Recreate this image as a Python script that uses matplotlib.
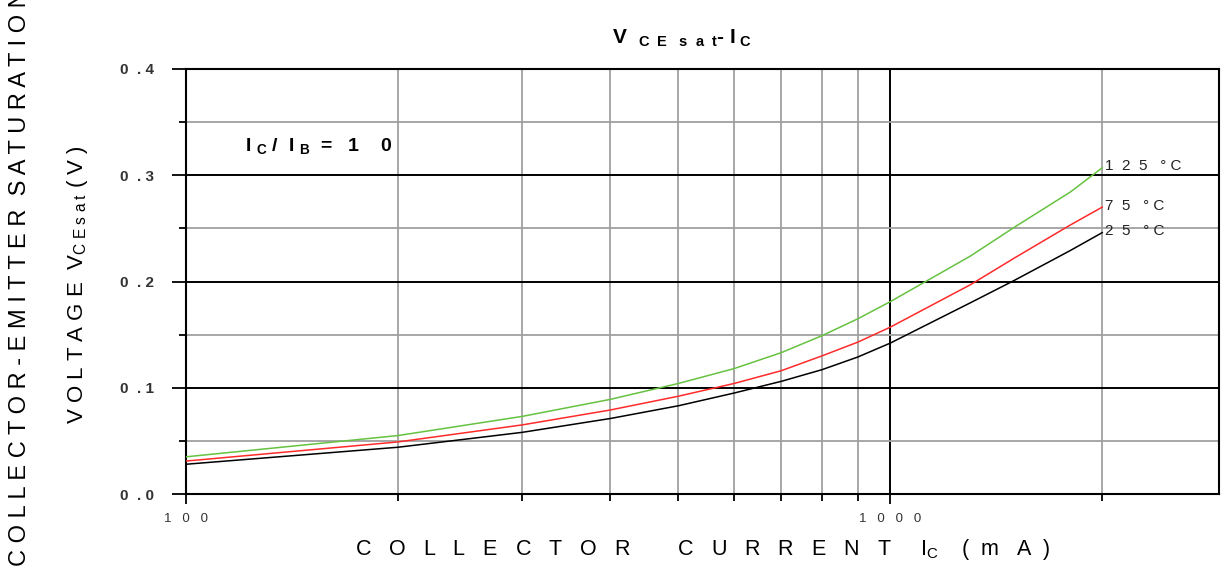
import matplotlib
matplotlib.use("Agg")
import matplotlib.pyplot as plt
from matplotlib.ticker import FixedLocator, FixedFormatter, NullFormatter

plt.rcParams['font.family'] = ['Liberation Sans', 'DejaVu Sans']
plt.rcParams['mathtext.fontset'] = 'custom'
plt.rcParams['mathtext.rm'] = 'Liberation Sans'
plt.rcParams['mathtext.bf'] = 'Liberation Sans:bold'
plt.rcParams['mathtext.it'] = 'Liberation Sans:italic'

# collector current (mA) and saturation voltage (V)
ic_ma = [100, 200, 300, 400, 500, 600, 700, 800, 900, 1000, 1300, 1500, 1800, 2000]
vce_25 = [0.028, 0.044, 0.058, 0.071, 0.083, 0.095, 0.106, 0.117, 0.129, 0.142, 0.180, 0.201, 0.229, 0.246]
vce_75 = [0.031, 0.049, 0.065, 0.079, 0.092, 0.104, 0.116, 0.130, 0.143, 0.157, 0.197, 0.222, 0.253, 0.270]
vce_125 = [0.035, 0.055, 0.073, 0.089, 0.104, 0.118, 0.133, 0.149, 0.165, 0.181, 0.224, 0.251, 0.284, 0.307]

series = [("2  5   ° C", vce_25, "black"),
          ("7  5   ° C", vce_75, "#ff2a2a"),
          ("1  2  5   ° C", vce_125, "#66c241")]

x_major = [100, 1000]
x_minor = [200, 300, 400, 500, 600, 700, 800, 900, 2000]
x_labels = ["1   0   0", "1   0   0   0"]
y_major = [0.0, 0.1, 0.2, 0.3, 0.4]
y_minor = [0.05, 0.15, 0.25, 0.35]
y_labels = ["0  . 0", "0  . 1", "0  . 2", "0  . 3", "0  . 4"]

fig = plt.figure(figsize=(12.29, 5.75), dpi=100)
ax = fig.add_axes([186/1229, 1-494/575, (1219-186)/1229, (494-69)/575])

for label, v, c in series:
    ax.plot(ic_ma, v, color=c, lw=1.1, zorder=3)
    ax.annotate(label, (ic_ma[-1], v[-1]), xytext=(2, 1), textcoords='offset points',
                fontsize=11, ha='left', va='center', color='#222222')

ax.set_xscale('log')
ax.set_xlim(100, 2930)
ax.set_ylim(0, 0.4)

ax.xaxis.set_major_locator(FixedLocator(x_major))
ax.xaxis.set_major_formatter(FixedFormatter(x_labels))
ax.xaxis.set_minor_locator(FixedLocator(x_minor))
ax.xaxis.set_minor_formatter(NullFormatter())
ax.yaxis.set_major_locator(FixedLocator(y_major))
ax.yaxis.set_major_formatter(FixedFormatter(y_labels))
ax.yaxis.set_minor_locator(FixedLocator(y_minor))

ax.grid(which='major', color='black', lw=1.4)
ax.grid(which='minor', color='#a0a0a0', lw=1.3)
ax.set_axisbelow(True)

ax.tick_params(axis='y', which='major', length=10, width=1.3, pad=13,
               labelsize=11, labelcolor='#333333')
ax.tick_params(axis='y', which='minor', length=5, width=1.3)
ax.tick_params(axis='x', which='major', length=7, width=1.3, pad=7,
               labelsize=9.5, labelcolor='#333333')
ax.tick_params(axis='x', which='minor', length=5, width=1.3)
for lab in ax.get_yticklabels():
    lab.set_fontweight('bold')
for s in ax.spines.values():
    s.set_linewidth(1.5)

ax.text((245-186)/1033, 1-(146-69)/425,
        r'I $_{\mathbf{C}}$ /  I $_{\mathbf{B}}$  =   1    0',
        transform=ax.transAxes, fontsize=14, fontweight='bold', ha='left', va='center')

fig.text(612/1229, 1-38/575,
         r'V$_{\mathbf{\ \ \ C\ \ E\ \ \ s\ \ a\ \ t}}$- I$_{\mathbf{\ C}}$',
         fontsize=15, fontweight='bold', ha='left', va='center')

ax.set_xlabel(r'C   O   L   L   E   C   T   O   R        C   U   R   R   E   N   T     '
              r'I$_{\mathrm{C}}$    (  m   A  )',
              fontsize=15.5, labelpad=8)

fig.text(20/1229, 1-566/575,
         'C O L L E C T O R - E M I T T E R  S A T U R A T I O N',
         rotation=90, rotation_mode='anchor', ha='left', va='center', fontsize=17)
fig.text(78/1229, 1-285/575,
         r'V O L T A G E  V$_{\mathrm{C\ E\ s\ a\ t}}$ ( V )',
         rotation=90, rotation_mode='anchor', ha='center', va='center', fontsize=16)

fig.savefig("out.png", dpi=100)
